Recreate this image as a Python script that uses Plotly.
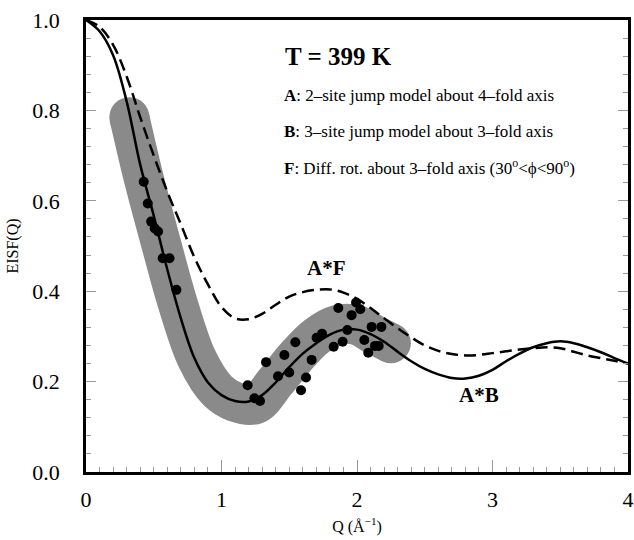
"""EISF(Q) at T = 399 K: data points with jump / rotational diffusion models."""

import plotly.graph_objects as go

# model curves
q_model = [0.0, 0.1, 0.2, 0.3, 0.4, 0.5, 0.6, 0.7, 0.8, 0.9, 1.0, 1.1, 1.2, 1.3,
           1.4, 1.5, 1.6, 1.7, 1.8, 1.9, 2.0, 2.1, 2.2, 2.3, 2.4, 2.5, 2.6, 2.7,
           2.8, 2.9, 3.0, 3.1, 3.2, 3.3, 3.4, 3.5, 3.6, 3.7, 3.8, 3.9, 4.0]
eisf_ab = [1.0, 0.975, 0.922, 0.82, 0.68, 0.567, 0.448, 0.34, 0.252, 0.198, 0.17,
           0.157, 0.156, 0.17, 0.198, 0.232, 0.262, 0.285, 0.304, 0.315, 0.315,
           0.305, 0.288, 0.266, 0.245, 0.228, 0.216, 0.208, 0.207, 0.213, 0.226,
           0.245, 0.262, 0.276, 0.285, 0.289, 0.285, 0.276, 0.265, 0.252, 0.24]
eisf_af = [1.0, 0.985, 0.945, 0.875, 0.785, 0.70, 0.62, 0.548, 0.475, 0.415, 0.365,
           0.34, 0.338, 0.35, 0.37, 0.388, 0.398, 0.403, 0.404, 0.397, 0.383,
           0.363, 0.34, 0.318, 0.298, 0.28, 0.268, 0.261, 0.258, 0.259, 0.263,
           0.267, 0.271, 0.274, 0.276, 0.274, 0.266, 0.258, 0.252, 0.246, 0.24]

# grey band (range of data)
q_band = [0.32, 0.43, 0.55, 0.68, 0.82, 0.97, 1.1, 1.25, 1.4, 1.55, 1.7, 1.85,
          2.0, 2.12, 2.25]
eisf_band = [0.785, 0.645, 0.51, 0.37, 0.25, 0.18, 0.155, 0.15, 0.2, 0.255,
             0.3, 0.325, 0.325, 0.305, 0.285]

# measured points
q_data = [0.426, 0.456, 0.481, 0.507, 0.532, 0.566, 0.616, 0.667, 1.193, 1.243,
          1.284, 1.329, 1.417, 1.464, 1.50, 1.545, 1.587, 1.624, 1.665, 1.702,
          1.742, 1.828, 1.862, 1.894, 1.929, 1.960, 1.993, 2.024, 2.054, 2.083,
          2.108, 2.133, 2.16, 2.18]
eisf_data = [0.642, 0.594, 0.554, 0.539, 0.532, 0.473, 0.473, 0.403, 0.192, 0.163,
             0.157, 0.243, 0.212, 0.259, 0.22, 0.287, 0.181, 0.209, 0.248, 0.297,
             0.306, 0.277, 0.363, 0.288, 0.314, 0.347, 0.375, 0.36, 0.292, 0.264,
             0.321, 0.279, 0.279, 0.321]

x_ticks = [0, 1, 2, 3, 4]
y_ticks = [0.0, 0.2, 0.4, 0.6, 0.8, 1.0]

_FONT = "Liberation Serif"
_GREY = "#8a8a8a"

fig = go.Figure()

fig.add_trace(go.Scatter(
    x=q_band, y=eisf_band, mode="lines",
    line=dict(color=_GREY, width=40, shape="spline"),
    hoverinfo="skip",
))
# round caps at the band ends
fig.add_trace(go.Scatter(
    x=[q_band[0], q_band[-1]], y=[eisf_band[0], eisf_band[-1]], mode="markers",
    marker=dict(color=_GREY, size=40, line=dict(width=0)),
    hoverinfo="skip",
))
fig.add_trace(go.Scatter(
    x=q_model, y=eisf_af, mode="lines",
    line=dict(color="black", width=2.5, dash="12px,6px", shape="spline"),
))
fig.add_trace(go.Scatter(
    x=q_model, y=eisf_ab, mode="lines",
    line=dict(color="black", width=2.5, shape="spline"),
))
fig.add_trace(go.Scatter(
    x=q_data, y=eisf_data, mode="markers",
    marker=dict(color="black", size=10, line=dict(width=0)),
))

fig.add_annotation(x=1.864, y=0.92, text="<b>T = 399 K</b>", showarrow=False,
                   font=dict(family=_FONT, size=25))
legend_lines = [
    "<b>A</b>: 2–site jump model about 4–fold axis",
    "<b>B</b>: 3–site jump model about 3–fold axis",
    "<b>F</b>: Diff. rot. about 3–fold axis (30<sup>o</sup>&lt;ϕ&lt;90<sup>o</sup>)",
]
for i, txt in enumerate(legend_lines):
    fig.add_annotation(x=1.444, y=0.834 - 0.08 * i, text=txt, showarrow=False,
                       xanchor="left", font=dict(family=_FONT, size=17))
fig.add_annotation(x=1.775, y=0.451, text="<b>A*F</b>", showarrow=False,
                   font=dict(family=_FONT, size=21))
fig.add_annotation(x=2.90, y=0.17, text="<b>A*B</b>", showarrow=False,
                   font=dict(family=_FONT, size=21))

fig.update_layout(
    width=634, height=540,
    margin=dict(l=86, r=6, t=20, b=68),
    paper_bgcolor="white", plot_bgcolor="white",
    font=dict(family=_FONT, color="black"),
    showlegend=False,
)
fig.update_xaxes(
    range=[0, 4], tickvals=x_ticks, ticks="inside", ticklen=12, tickwidth=1,
    tickcolor="#999", showline=True, linecolor="black", linewidth=2.5,
    mirror=True, showgrid=False, zeroline=False, automargin=False,
    tickfont=dict(family=_FONT, size=22, color="black"),
    ticklabelstandoff=6,
    minor=dict(dtick=0.1, ticks="inside", ticklen=5, tickcolor="#999"),
    title=dict(text="Q (Å<sup>−1</sup>)", font=dict(family=_FONT, size=16),
               standoff=10),
)
fig.update_yaxes(
    range=[0, 1], tickvals=y_ticks, tickformat=".1f", ticks="inside", ticklen=10,
    tickwidth=1, tickcolor="#999", showline=True, linecolor="black",
    linewidth=2.5, mirror="ticks", showgrid=False, zeroline=False,
    automargin=False,
    tickfont=dict(family=_FONT, size=22, color="black"), ticklabelstandoff=19,
    minor=dict(dtick=0.04, ticks="inside", ticklen=5, tickcolor="#999"),
    title=dict(text="EISF(Q)", font=dict(family=_FONT, size=16), standoff=10),
)

# the page body has a default 8px margin; drop it so the figure fills the window
fig.write_html("out.html", config={"displayModeBar": False},
               post_script="document.body.style.margin = '0';")
